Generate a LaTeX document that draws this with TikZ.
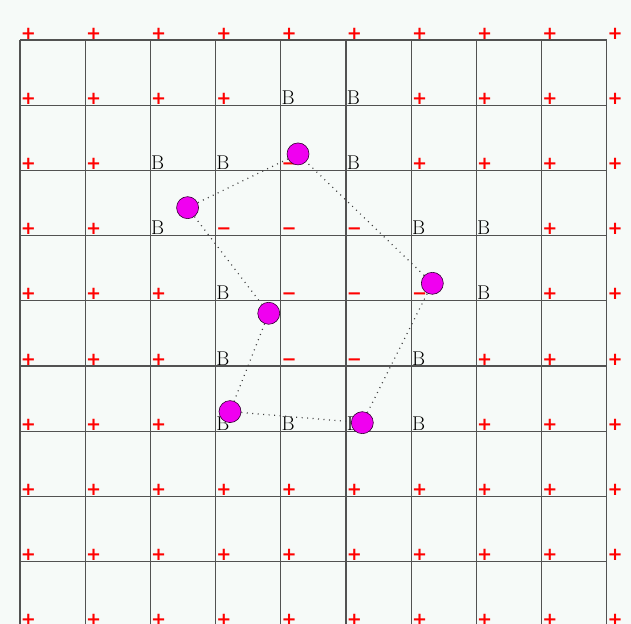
\documentclass[tikz,border=0pt]{standalone}
\usepackage{fontspec}
\usepackage{tikz}
\usetikzlibrary{positioning}
\usepackage{amsmath, amssymb}

\newfontfamily\signfont{DejaVu Sans}
\definecolor{bgpaper}{RGB}{246,250,248}
\definecolor{spin}{RGB}{240,0,240}

% site labels
\newcommand{\siteP}{\textcolor{red}{\signfont\bfseries\fontsize{18}{20}\selectfont +}}
\newcommand{\siteN}{\textcolor{red}{\signfont\bfseries\fontsize{18}{20}\selectfont −}}
\newcommand{\siteB}{\fontsize{20}{23}\selectfont B}

\begin{document}
\begin{tikzpicture}[
    x=65.2bp, y=-65.2bp,
    gridline/.style={draw=black!68, line width=1.1bp},
    site/.style={anchor=south west, inner sep=0.6bp},
    particle/.style={circle, draw=black!80!spin, fill=spin, line width=0.6bp, inner sep=0pt, minimum size=22bp},
    bond/.style={draw=black!75, line width=1.2bp, dash pattern=on 1bp off 4.5bp},
]

% =============================================================================
% Frame and lattice
% =============================================================================
\useasboundingbox[fill=bgpaper] (-0.307,-0.613) rectangle (9.371,8.957);

\foreach \r in {0,...,8}
    \draw[gridline] (0,\r) -- (9,\r);
\foreach \c in {0,...,9}
    \draw[gridline] (\c,0) -- (\c,9.2);

% =============================================================================
% Site labels (P = +, N = -, B = boundary)
% =============================================================================
\foreach \row [count=\r from 0] in {
    {P,P,P,P,P,P,P,P,P,P},
    {P,P,P,P,B,B,P,P,P,P},
    {P,P,B,B,N,B,P,P,P,P},
    {P,P,B,N,N,N,B,B,P,P},
    {P,P,P,B,N,N,N,B,P,P},
    {P,P,P,B,N,N,B,P,P,P},
    {P,P,P,B,B,B,B,P,P,P},
    {P,P,P,P,P,P,P,P,P,P},
    {P,P,P,P,P,P,P,P,P,P},
    {P,P,P,P,P,P,P,P,P,P}}
{
    \foreach \t [count=\c from 0] in \row
        \node[site] (v\r-\c) at (\c,\r) {\csname site\t\endcsname};
}

% =============================================================================
% Particles and bonds
% =============================================================================
\node[particle] (p1) at (4.264,1.748) {};
\node[particle] (p2) at (2.570,2.572) {};
\node[particle] (p3) at (3.815,4.192) {};
\node[particle] (p4) at (3.221,5.700) {};
\node[particle] (p5) at (5.250,5.870) {};
\node[particle] (p6) at (6.324,3.732) {};

\draw[bond] (p1) -- (p2);
\draw[bond] (p2) -- (p3);
\draw[bond] (p3) -- (p4);
\draw[bond] (p4) -- (p5);
\draw[bond] (p5) -- (p6);
\draw[bond] (p6) -- (p1);

\end{tikzpicture}
\end{document}
